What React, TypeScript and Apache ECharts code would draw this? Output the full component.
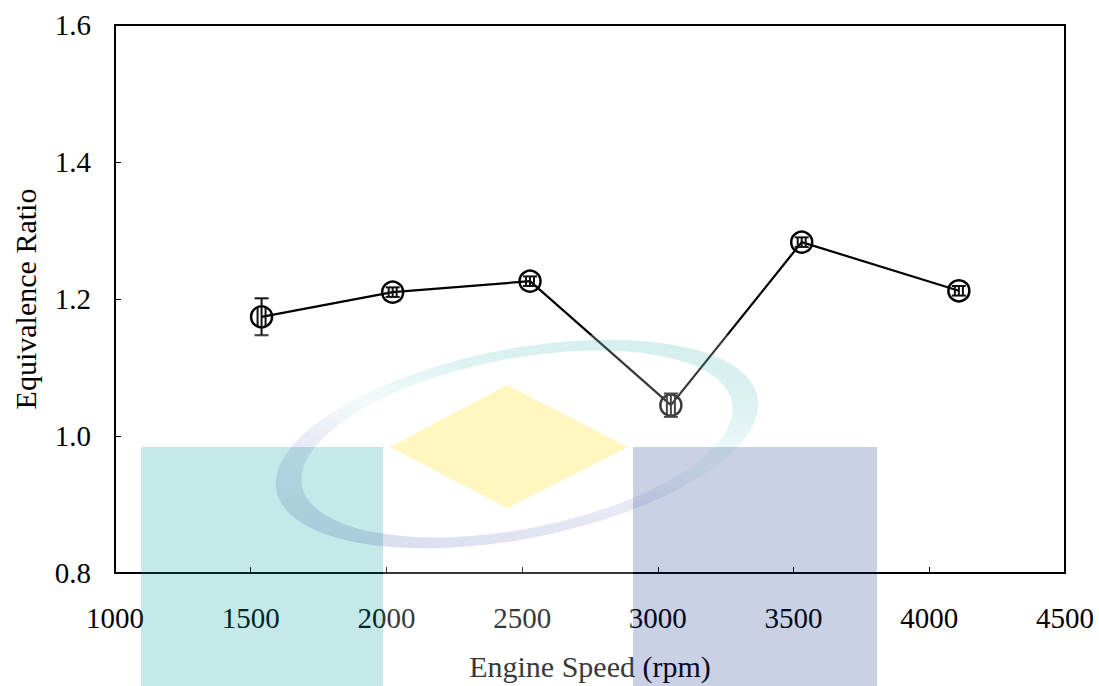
import React, { useEffect, useRef } from "react";
import * as echarts from "echarts";

const speeds = [1540, 2023, 2529, 3048, 3530, 4109];
const ratios = [1.174, 1.21, 1.226, 1.045, 1.283, 1.212];
const errOuter = [0.027, 0.007, 0.007, 0.017, 0.007, 0.007];
const errInner = [0.014, 0.007, 0.007, 0.013, 0.007, 0.007];
const xTicks = [1000, 1500, 2000, 2500, 3000, 3500, 4000, 4500];
const yTicks = [0.8, 1.0, 1.2, 1.4, 1.6];

const FONT = "'Liberation Serif', 'Times New Roman', serif";

export default function App() {
  const ref = useRef<HTMLDivElement>(null);
  useEffect(() => {
    if (!ref.current) return;
    const chart = echarts.init(ref.current, null, { renderer: "svg" });
    const ringD =
      "M -245 0 A 245 95 0 1 0 245 0 A 245 95 0 1 0 -245 0 Z M -219 0 A 219 85 0 1 1 219 0 A 219 85 0 1 1 -219 0 Z";
    echarts.graphic.registerShape("umpRing", echarts.graphic.extendPath(ringD, {}) as any);

    const errData = speeds.map((s, i) => [s, ratios[i], errOuter[i], errInner[i]]);

    chart.setOption({
      animation: false,
      backgroundColor: "#fff",
      grid: {
        left: 115,
        right: 34,
        top: 25,
        bottom: 111,
        show: true,
        borderColor: "#000",
        borderWidth: 2,
        backgroundColor: "transparent",
      },
      xAxis: {
        type: "value",
        min: xTicks[0],
        max: xTicks[xTicks.length - 1],
        interval: 500,
        name: "Engine Speed (rpm)",
        nameLocation: "middle",
        nameGap: 93,
        nameTextStyle: { fontFamily: FONT, fontSize: 30, color: "#000", verticalAlign: "middle" },
        axisLine: { lineStyle: { color: "#000", width: 2 } },
        axisTick: { inside: true, length: 6, lineStyle: { color: "#000", width: 1 } },
        axisLabel: {
          fontFamily: FONT,
          fontSize: 29,
          color: "#000",
          margin: 30,
          formatter: (v: number) => String(v),
        },
        splitLine: { show: false },
      },
      yAxis: {
        type: "value",
        min: yTicks[0],
        max: yTicks[yTicks.length - 1],
        interval: 0.2,
        name: "Equivalence Ratio",
        nameLocation: "middle",
        nameGap: 90,
        nameRotate: 90,
        nameTextStyle: { fontFamily: FONT, fontSize: 30, color: "#000", verticalAlign: "middle" },
        axisLine: { lineStyle: { color: "#000", width: 2 } },
        axisTick: { inside: true, length: 6, lineStyle: { color: "#000", width: 1 } },
        axisLabel: {
          fontFamily: FONT,
          fontSize: 29,
          color: "#000",
          margin: 24,
          formatter: (v: number) => v.toFixed(1),
        },
        splitLine: { show: false },
      },
      series: [
        {
          type: "line",
          data: speeds.map((s, i) => [s, ratios[i]]),
          symbol: "circle",
          symbolSize: 21,
          lineStyle: { color: "#000", width: 2.2 },
          itemStyle: { color: "transparent", borderColor: "#000", borderWidth: 2.5 },
          z: 3,
        },
        {
          type: "custom",
          data: errData,
          z: 4,
          renderItem: (params: any, api: any) => {
            const x = api.value(0);
            const y = api.value(1);
            const eo = api.value(2);
            const ei = api.value(3);
            const top = api.coord([x, y + eo]);
            const bot = api.coord([x, y - eo]);
            const itop = api.coord([x, y + ei]);
            const ibot = api.coord([x, y - ei]);
            const cx = top[0];
            const st = { stroke: "#111", lineWidth: 2 };
            const cw = 7;
            return {
              type: "group",
              children: [
                { type: "line", shape: { x1: cx, y1: top[1], x2: cx, y2: bot[1] }, style: st },
                { type: "line", shape: { x1: cx - cw, y1: top[1], x2: cx + cw, y2: top[1] }, style: st },
                { type: "line", shape: { x1: cx - cw, y1: bot[1], x2: cx + cw, y2: bot[1] }, style: st },
                { type: "line", shape: { x1: cx - 4, y1: itop[1], x2: cx - 4, y2: ibot[1] }, style: st },
                { type: "line", shape: { x1: cx + 4, y1: itop[1], x2: cx + 4, y2: ibot[1] }, style: st },
              ],
            };
          },
        },
      ],
      graphic: [
        {
          type: "rect",
          z: 100,
          silent: true,
          shape: { x: 141, y: 335, width: 736, height: 112 },
          style: { fill: "rgba(255,255,255,0.22)" },
        },
        {
          type: "rect",
          z: 100,
          silent: true,
          shape: { x: 383, y: 447, width: 250, height: 239 },
          style: { fill: "rgba(255,255,255,0.22)" },
        },
        {
          type: "rect",
          z: 101,
          silent: true,
          shape: { x: 141, y: 447, width: 242, height: 239 },
          style: { fill: "rgba(0,158,154,0.227)" },
        },
        {
          type: "rect",
          z: 101,
          silent: true,
          shape: { x: 633, y: 447, width: 244, height: 239 },
          style: { fill: "rgba(18,45,132,0.22)" },
        },
        {
          type: "polygon",
          z: 101,
          silent: true,
          shape: { points: [[507, 385], [628, 447], [507, 508], [390, 447]] },
          style: { fill: "rgba(255,219,3,0.25)" },
        },
        {
          type: "umpRing",
          z: 102,
          silent: true,
          x: 517,
          y: 444,
          rotation: (11 * Math.PI) / 180,
          style: {
            fill: new echarts.graphic.LinearGradient(0, 1, 1, 0, [
              { offset: 0, color: "rgba(5,23,141,0.17)" },
              { offset: 0.4, color: "rgba(5,23,141,0.09)" },
              { offset: 0.55, color: "rgba(0,158,154,0.05)" },
              { offset: 0.7, color: "rgba(0,158,154,0.13)" },
              { offset: 1, color: "rgba(0,158,154,0.2)" },
            ]),
          },
        },
      ],
    });
    return () => chart.dispose();
  }, []);
  return <div ref={ref} style={{ width: 1099, height: 686, position: "absolute", left: 0, top: 0 }} />;
}
